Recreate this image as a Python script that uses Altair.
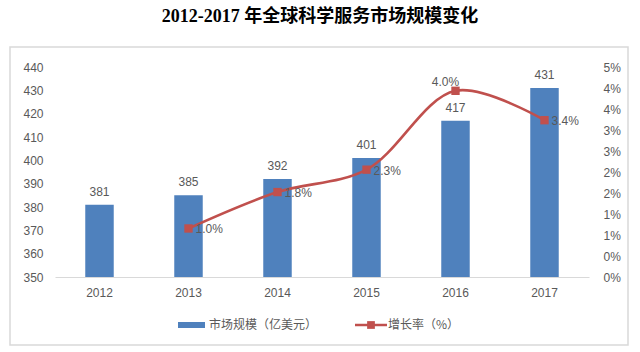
import altair as alt
import pandas as pd

years = ["2012", "2013", "2014", "2015", "2016", "2017"]
market = [381, 385, 392, 401, 417, 431]
growth_years = ["2013", "2014", "2015", "2016", "2017"]
growth = [0.0104, 0.0182, 0.0230, 0.0399, 0.0336]
left_ticks = [350, 360, 370, 380, 390, 400, 410, 420, 430, 440]
right_ticks = [0, 0.0045, 0.009, 0.0135, 0.018, 0.0225, 0.027, 0.0315, 0.036, 0.0405, 0.045]
title_text = "2012-2017 年全球科学服务市场规模变化"
legend_bar = "市场规模（亿美元）"
legend_line = "增长率（%）"

BLUE = "#4F81BD"
RED = "#C0504D"
GRAY = "#595959"
FONT = "Liberation Sans"
CJK = "Noto Sans CJK SC"

bars_df = pd.DataFrame({"year": years, "value": market})
line_df = pd.DataFrame({"year": growth_years, "rate": growth})
one = pd.DataFrame({"k": [0]})

xscale = alt.Scale(domain=years, paddingInner=0.68, paddingOuter=0.34)
xaxis = alt.Axis(title=None, ticks=False, domainColor="#D9D9D9", domainWidth=1, grid=False,
                 labelColor=GRAY, labelFontSize=12, labelFont=FONT, labelPadding=10, labelAngle=0)

yl = alt.Scale(domain=[350, 440], nice=False, zero=False)
yr = alt.Scale(domain=[0, 0.045], nice=False)

bars = alt.Chart(bars_df).mark_bar(color=BLUE).encode(
    x=alt.X("year:N", scale=xscale, axis=xaxis),
    y=alt.Y("value:Q", scale=yl,
            axis=alt.Axis(title=None, values=left_ticks, ticks=False, domain=False, grid=False,
                          labelColor=GRAY, labelFontSize=12, labelFont=FONT, labelPadding=12)),
    y2=alt.datum(350),
)
line = alt.Chart(line_df).mark_line(color=RED, strokeWidth=2.6, interpolate="catmull-rom").encode(
    x=alt.X("year:N", scale=xscale),
    y=alt.Y("rate:Q", scale=yr,
            axis=alt.Axis(title=None, orient="right", values=right_ticks, ticks=False, domain=False,
                          grid=False, labelColor=GRAY, labelFontSize=12, labelFont=FONT,
                          labelPadding=14,
                          labelExpr="format(datum.value + 1e-9, '.0%')")),
)
bar_text = alt.Chart(bars_df).mark_text(dy=-13, font=FONT, fontSize=12, color=GRAY).encode(
    x=alt.X("year:N", scale=xscale),
    y=alt.Y("value:Q", scale=yl, axis=None),
    text="value:Q",
)
pts = alt.Chart(line_df).mark_point(shape="square", filled=True, color=RED, size=70, opacity=1).encode(
    x=alt.X("year:N", scale=xscale),
    y=alt.Y("rate:Q", scale=yr, axis=None),
)
lab_right = alt.Chart(line_df).transform_filter("datum.year != '2016'").mark_text(
    align="left", dx=7, dy=1, font=FONT, fontSize=12, color=GRAY).encode(
    x=alt.X("year:N", scale=xscale),
    y=alt.Y("rate:Q", scale=yr, axis=None),
    text=alt.Text("rate:Q", format=".1%"),
)
lab_top = alt.Chart(line_df).transform_filter("datum.year == '2016'").mark_text(
    align="center", dx=-10, dy=-9, font=FONT, fontSize=12, color=GRAY).encode(
    x=alt.X("year:N", scale=xscale),
    y=alt.Y("rate:Q", scale=yr, axis=None),
    text=alt.Text("rate:Q", format=".1%"),
)

border = alt.Chart(one).mark_rect(fillOpacity=0, stroke="#D9D9D9", strokeWidth=1.5).encode(
    x=alt.value(-45), x2=alt.value(573), y=alt.value(-20), y2=alt.value(278))
title = alt.Chart(one).mark_text(font="Liberation Serif, Noto Sans CJK SC", fontSize=18,
                                 fontWeight="bold", color="#000000").encode(
    x=alt.value(265), y=alt.value(-50), text=alt.value(title_text))
leg_rect = alt.Chart(one).mark_rect(color=BLUE).encode(
    x=alt.value(123), x2=alt.value(150), y=alt.value(255), y2=alt.value(261))
leg_t1 = alt.Chart(one).mark_text(align="left", font=CJK, fontSize=12, color=GRAY).encode(
    x=alt.value(154), y=alt.value(258), text=alt.value(legend_bar))
leg_rule = alt.Chart(one).mark_rule(color=RED, strokeWidth=2.5).encode(
    x=alt.value(300), x2=alt.value(332), y=alt.value(258))
leg_sq = alt.Chart(one).mark_point(shape="square", filled=True, color=RED, size=60, opacity=1).encode(
    x=alt.value(316), y=alt.value(258))
leg_t2 = alt.Chart(one).mark_text(align="left", font=CJK, fontSize=12, color=GRAY).encode(
    x=alt.value(333), y=alt.value(258), text=alt.value(legend_line))

chart = alt.layer(bars, line, bar_text, pts, lab_right, lab_top,
                  border, title, leg_rect, leg_t1, leg_rule, leg_sq, leg_t2).resolve_scale(
    y="independent"
).properties(
    width=534, height=210,
    autosize=alt.AutoSizeParams(type="none"),
    padding={"left": 55, "top": 67, "right": 51, "bottom": 75},
    background="white",
).configure_view(stroke=None)

chart.save("out.html", embed_options={"renderer": "svg", "actions": False})
